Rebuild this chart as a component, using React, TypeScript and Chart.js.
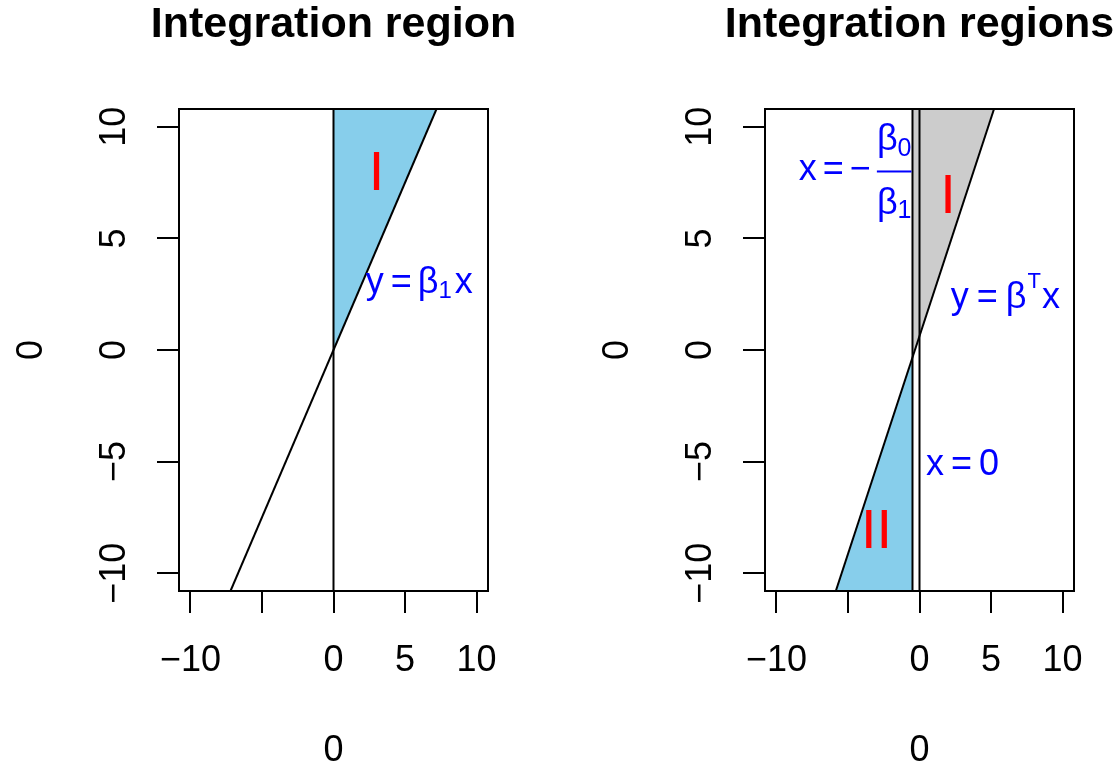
import React, { useEffect, useRef } from 'react';
import { Chart, registerables } from 'chart.js';

Chart.register(...registerables);

// ---------- shared axis data ----------
const X_MIN = -10.8;
const X_MAX = 10.8;
const Y_MIN = -10.8;
const Y_MAX = 10.8;
const X_TICKS = [-10, -5, 0, 5, 10];
const X_TICK_LABELS = ['\u221210', '', '0', '5', '10'];
const Y_TICKS = [-10, -5, 0, 5, 10];
const Y_TICK_LABELS = ['\u221210', '\u22125', '0', '5', '10'];
const X_AXIS_TITLE = '0';
const Y_AXIS_TITLE = '0';

// ---------- left panel data ----------
const LEFT_TITLE = 'Integration region';
const LEFT_LINE_X = [-7.2, 7.2];
const LEFT_LINE_Y = [-10.8, 10.8];
const LEFT_VLINE_X = [0, 0];
const LEFT_VLINE_Y = [-10.8, 10.8];
const LEFT_REGION_I_X = [0, 0, 7.2];
const LEFT_REGION_I_Y = [0, 10.8, 10.8];
const LEFT_LABEL_I = { x: 3, y: 8 };
const LEFT_LINE_LABEL = { x: 6, y: 3 };

// ---------- right panel data ----------
const RIGHT_TITLE = 'Integration regions';
const RIGHT_LINE_X = [-5.85, 5.21];
const RIGHT_LINE_Y = [-10.8, 10.8];
const RIGHT_VLINE0_X = [0, 0];
const RIGHT_VLINE0_Y = [-10.8, 10.8];
const RIGHT_VLINEB_X = [-0.49, -0.49];
const RIGHT_VLINEB_Y = [-10.8, 10.8];
const RIGHT_REGION_I_X = [-0.49, -0.49, 5.21];
const RIGHT_REGION_I_Y = [-0.33, 10.8, 10.8];
const RIGHT_REGION_II_X = [-5.85, -0.49, -0.49];
const RIGHT_REGION_II_Y = [-10.8, -10.8, -0.33];
const RIGHT_LABEL_I = { x: 2, y: 7 };
const RIGHT_LABEL_II = { x: -3, y: -8 };
const RIGHT_LINE_LABEL = { x: 6, y: 2.5 };
const RIGHT_ZERO_LABEL = { x: 3, y: -5 };
const RIGHT_FRAC_LABEL = { x: -0.49, y: 8 };

// ---------- styling ----------
const FONT = '"Liberation Sans", Arial, Helvetica, sans-serif';
const BLUE = '#0000FF';
const RED = '#FF0000';
const SKY = '#87CEEB';
const GRAY = '#CCCCCC';
const CANVAS_W = 560;
const CANVAS_H = 767;
const AREA_TOP = 109;
const AREA_BOTTOM = 591;

const font = (size: number, bold = false) => `${bold ? 'bold ' : ''}${size}px ${FONT}`;

const pts = (xs: number[], ys: number[]) => xs.map((x, i) => ({ x, y: ys[i] }));

const lineDs = (xs: number[], ys: number[]) => ({
  data: pts(xs, ys),
  borderColor: '#000',
  borderWidth: 2,
  pointRadius: 0,
  pointHoverRadius: 0,
  fill: false,
  tension: 0,
  order: 0,
});

const polyDs = (xs: number[], ys: number[], color: string) => ({
  data: pts(xs, ys),
  borderColor: 'rgba(0,0,0,0)',
  borderWidth: 0,
  backgroundColor: color,
  pointRadius: 0,
  pointHoverRadius: 0,
  fill: 'shape',
  tension: 0,
  order: 1,
});

type Seg = { t: string; size: number; dy?: number; gap?: number };

function segsWidth(ctx: CanvasRenderingContext2D, segs: Seg[]) {
  let total = 0;
  const ws = segs.map((s) => {
    ctx.font = font(s.size);
    const w = ctx.measureText(s.t).width;
    total += (s.gap || 0) + w;
    return w;
  });
  return { total, ws };
}

function drawSegsAt(
  ctx: CanvasRenderingContext2D,
  segs: Seg[],
  x: number,
  baseline: number,
  align: 'left' | 'center' | 'right',
  color: string
) {
  const { total, ws } = segsWidth(ctx, segs);
  let cx = align === 'center' ? x - total / 2 : align === 'right' ? x - total : x;
  ctx.fillStyle = color;
  ctx.textAlign = 'left';
  ctx.textBaseline = 'alphabetic';
  segs.forEach((s, i) => {
    cx += s.gap || 0;
    ctx.font = font(s.size);
    ctx.fillText(s.t, cx, baseline + (s.dy || 0));
    cx += ws[i];
  });
}

function drawSegsCentered(
  ctx: CanvasRenderingContext2D,
  segs: Seg[],
  x: number,
  y: number,
  color: string
) {
  let top = Infinity;
  let bot = -Infinity;
  segs.forEach((s) => {
    ctx.font = font(s.size);
    const m = ctx.measureText(s.t);
    top = Math.min(top, (s.dy || 0) - m.actualBoundingBoxAscent);
    bot = Math.max(bot, (s.dy || 0) + m.actualBoundingBoxDescent);
  });
  drawSegsAt(ctx, segs, x, y - (top + bot) / 2, 'center', color);
}

function drawDigits(
  ctx: CanvasRenderingContext2D,
  text: string,
  x: number,
  y: number,
  size: number,
  rotate: boolean
) {
  ctx.save();
  ctx.fillStyle = '#000';
  ctx.font = font(size);
  ctx.textAlign = 'center';
  ctx.textBaseline = 'alphabetic';
  ctx.translate(x, y);
  if (rotate) ctx.rotate(-Math.PI / 2);
  ctx.fillText(text, 0, 0.358 * size);
  ctx.restore();
}

type Px = (v: number) => number;

type PanelSpec = {
  title: string;
  areaLeft: number;
  areaRight: number;
  datasets: any[];
  annotate: (ctx: CanvasRenderingContext2D, px: Px, py: Px) => void;
};

const LEFT_SPEC: PanelSpec = {
  title: LEFT_TITLE,
  areaLeft: 179,
  areaRight: 488,
  datasets: [
    lineDs(LEFT_LINE_X, LEFT_LINE_Y),
    lineDs(LEFT_VLINE_X, LEFT_VLINE_Y),
    polyDs(LEFT_REGION_I_X, LEFT_REGION_I_Y, SKY),
  ],
  annotate: (ctx, px, py) => {
    drawSegsCentered(ctx, [{ t: 'I', size: 56 }], px(LEFT_LABEL_I.x), py(LEFT_LABEL_I.y), RED);
    drawSegsCentered(
      ctx,
      [
        { t: 'y', size: 36 },
        { t: '=', size: 36, gap: 7 },
        { t: '\u03B2', size: 36, gap: 6 },
        { t: '1', size: 24, dy: 5 },
        { t: 'x', size: 36, gap: 3 },
      ],
      px(LEFT_LINE_LABEL.x),
      py(LEFT_LINE_LABEL.y),
      BLUE
    );
  },
};

const RIGHT_SPEC: PanelSpec = {
  title: RIGHT_TITLE,
  areaLeft: 205,
  areaRight: 514,
  datasets: [
    lineDs(RIGHT_LINE_X, RIGHT_LINE_Y),
    lineDs(RIGHT_VLINE0_X, RIGHT_VLINE0_Y),
    lineDs(RIGHT_VLINEB_X, RIGHT_VLINEB_Y),
    polyDs(RIGHT_REGION_I_X, RIGHT_REGION_I_Y, GRAY),
    polyDs(RIGHT_REGION_II_X, RIGHT_REGION_II_Y, SKY),
  ],
  annotate: (ctx, px, py) => {
    drawSegsCentered(ctx, [{ t: 'I', size: 56 }], px(RIGHT_LABEL_I.x), py(RIGHT_LABEL_I.y), RED);
    drawSegsCentered(ctx, [{ t: 'II', size: 56 }], px(RIGHT_LABEL_II.x), py(RIGHT_LABEL_II.y), RED);
    drawSegsCentered(
      ctx,
      [
        { t: 'y', size: 36 },
        { t: '=', size: 36, gap: 8 },
        { t: '\u03B2', size: 36, gap: 8 },
        { t: 'T', size: 22, dy: -20, gap: 1 },
        { t: 'x', size: 36, gap: 1 },
      ],
      px(RIGHT_LINE_LABEL.x),
      py(RIGHT_LINE_LABEL.y),
      BLUE
    );
    drawSegsCentered(
      ctx,
      [
        { t: 'x', size: 36 },
        { t: '=', size: 36, gap: 7 },
        { t: '0', size: 36, gap: 7 },
      ],
      px(RIGHT_ZERO_LABEL.x),
      py(RIGHT_ZERO_LABEL.y),
      BLUE
    );
    // x = - beta0 / beta1
    const barY = py(RIGHT_FRAC_LABEL.y);
    const barRight = px(RIGHT_FRAC_LABEL.x) - 1;
    const num: Seg[] = [
      { t: '\u03B2', size: 36 },
      { t: '0', size: 25, dy: 6 },
    ];
    const den: Seg[] = [
      { t: '\u03B2', size: 36 },
      { t: '1', size: 25, dy: 4 },
    ];
    const numW = segsWidth(ctx, num).total;
    const denW = segsWidth(ctx, den).total;
    const barW = Math.max(numW, denW);
    const barLeft = barRight - barW;
    ctx.fillStyle = BLUE;
    ctx.fillRect(barLeft, barY - 1, barW, 2);
    drawSegsAt(ctx, num, barLeft + barW / 2, barY - 21.7, 'center', BLUE);
    drawSegsAt(ctx, den, barLeft + barW / 2, barY + 42.3, 'center', BLUE);
    drawSegsAt(
      ctx,
      [
        { t: 'x', size: 36 },
        { t: '=', size: 36, gap: 6 },
        { t: '\u2212', size: 36, gap: 6 },
      ],
      barLeft - 6,
      barY + 8.7,
      'right',
      BLUE
    );
  },
};

function Panel({ spec }: { spec: PanelSpec }) {
  const ref = useRef<HTMLCanvasElement>(null);
  useEffect(() => {
    const canvas = ref.current;
    if (!canvas) return;
    const grid = {
      display: true,
      drawOnChartArea: false,
      drawTicks: true,
      tickLength: 22,
      lineWidth: 2,
      color: '#000',
    };
    const decorPlugin = {
      id: 'decor',
      afterDatasetsDraw(chart: any) {
        const { ctx, chartArea: a } = chart;
        ctx.save();
        ctx.strokeStyle = '#000';
        ctx.lineWidth = 2;
        ctx.strokeRect(a.left, a.top, a.right - a.left, a.bottom - a.top);
        ctx.restore();
      },
      afterDraw(chart: any) {
        const { ctx, chartArea: a } = chart;
        const xs = chart.scales.x;
        const ys = chart.scales.y;
        const px: Px = (v) => xs.getPixelForValue(v);
        const py: Px = (v) => ys.getPixelForValue(v);
        const cx = (a.left + a.right) / 2;
        const cy = (a.top + a.bottom) / 2;
        ctx.save();
        // title
        ctx.fillStyle = '#000';
        ctx.font = font(43, true);
        ctx.textAlign = 'center';
        ctx.textBaseline = 'alphabetic';
        ctx.fillText(spec.title, cx, 37);
        // tick labels
        X_TICKS.forEach((v, i) => {
          if (X_TICK_LABELS[i]) drawDigits(ctx, X_TICK_LABELS[i], px(v), a.bottom + 67.5, 36, false);
        });
        Y_TICKS.forEach((v, i) => {
          if (Y_TICK_LABELS[i]) drawDigits(ctx, Y_TICK_LABELS[i], a.left - 67, py(v), 36, true);
        });
        // axis titles
        drawDigits(ctx, X_AXIS_TITLE, cx, a.bottom + 157, 36, false);
        drawDigits(ctx, Y_AXIS_TITLE, a.left - 149.5, cy, 36, true);
        // annotations
        spec.annotate(ctx, px, py);
        ctx.restore();
      },
    };
    const chart = new Chart(canvas, {
      type: 'line',
      data: { datasets: spec.datasets.map((d) => ({ ...d, data: d.data.map((p: any) => ({ ...p })) })) },
      options: {
        animation: false,
        responsive: false,
        maintainAspectRatio: false,
        events: [],
        layout: {
          padding: { top: AREA_TOP, right: CANVAS_W - spec.areaRight, bottom: 0, left: 0 },
        },
        plugins: {
          legend: { display: false },
          tooltip: { enabled: false },
          title: { display: false },
        },
        scales: {
          x: {
            type: 'linear',
            position: 'bottom',
            min: X_MIN,
            max: X_MAX,
            grid,
            border: { display: false },
            ticks: { display: false },
            afterBuildTicks: (s: any) => {
              s.ticks = X_TICKS.map((value) => ({ value }));
            },
            afterFit: (s: any) => {
              s.height = CANVAS_H - AREA_BOTTOM;
            },
          },
          y: {
            type: 'linear',
            position: 'left',
            min: Y_MIN,
            max: Y_MAX,
            grid,
            border: { display: false },
            ticks: { display: false },
            afterBuildTicks: (s: any) => {
              s.ticks = Y_TICKS.map((value) => ({ value }));
            },
            afterFit: (s: any) => {
              s.width = spec.areaLeft;
            },
          },
        },
      } as any,
      plugins: [decorPlugin],
    });
    return () => chart.destroy();
  }, [spec]);
  return (
    <canvas
      ref={ref}
      width={CANVAS_W}
      height={CANVAS_H}
      style={{ display: 'block', width: CANVAS_W, height: CANVAS_H }}
    />
  );
}

export default function App() {
  return (
    <div
      style={{
        position: 'absolute',
        left: 0,
        top: 0,
        width: 1120,
        height: 767,
        display: 'flex',
        background: '#fff',
      }}
    >
      <Panel spec={LEFT_SPEC} />
      <Panel spec={RIGHT_SPEC} />
    </div>
  );
}
